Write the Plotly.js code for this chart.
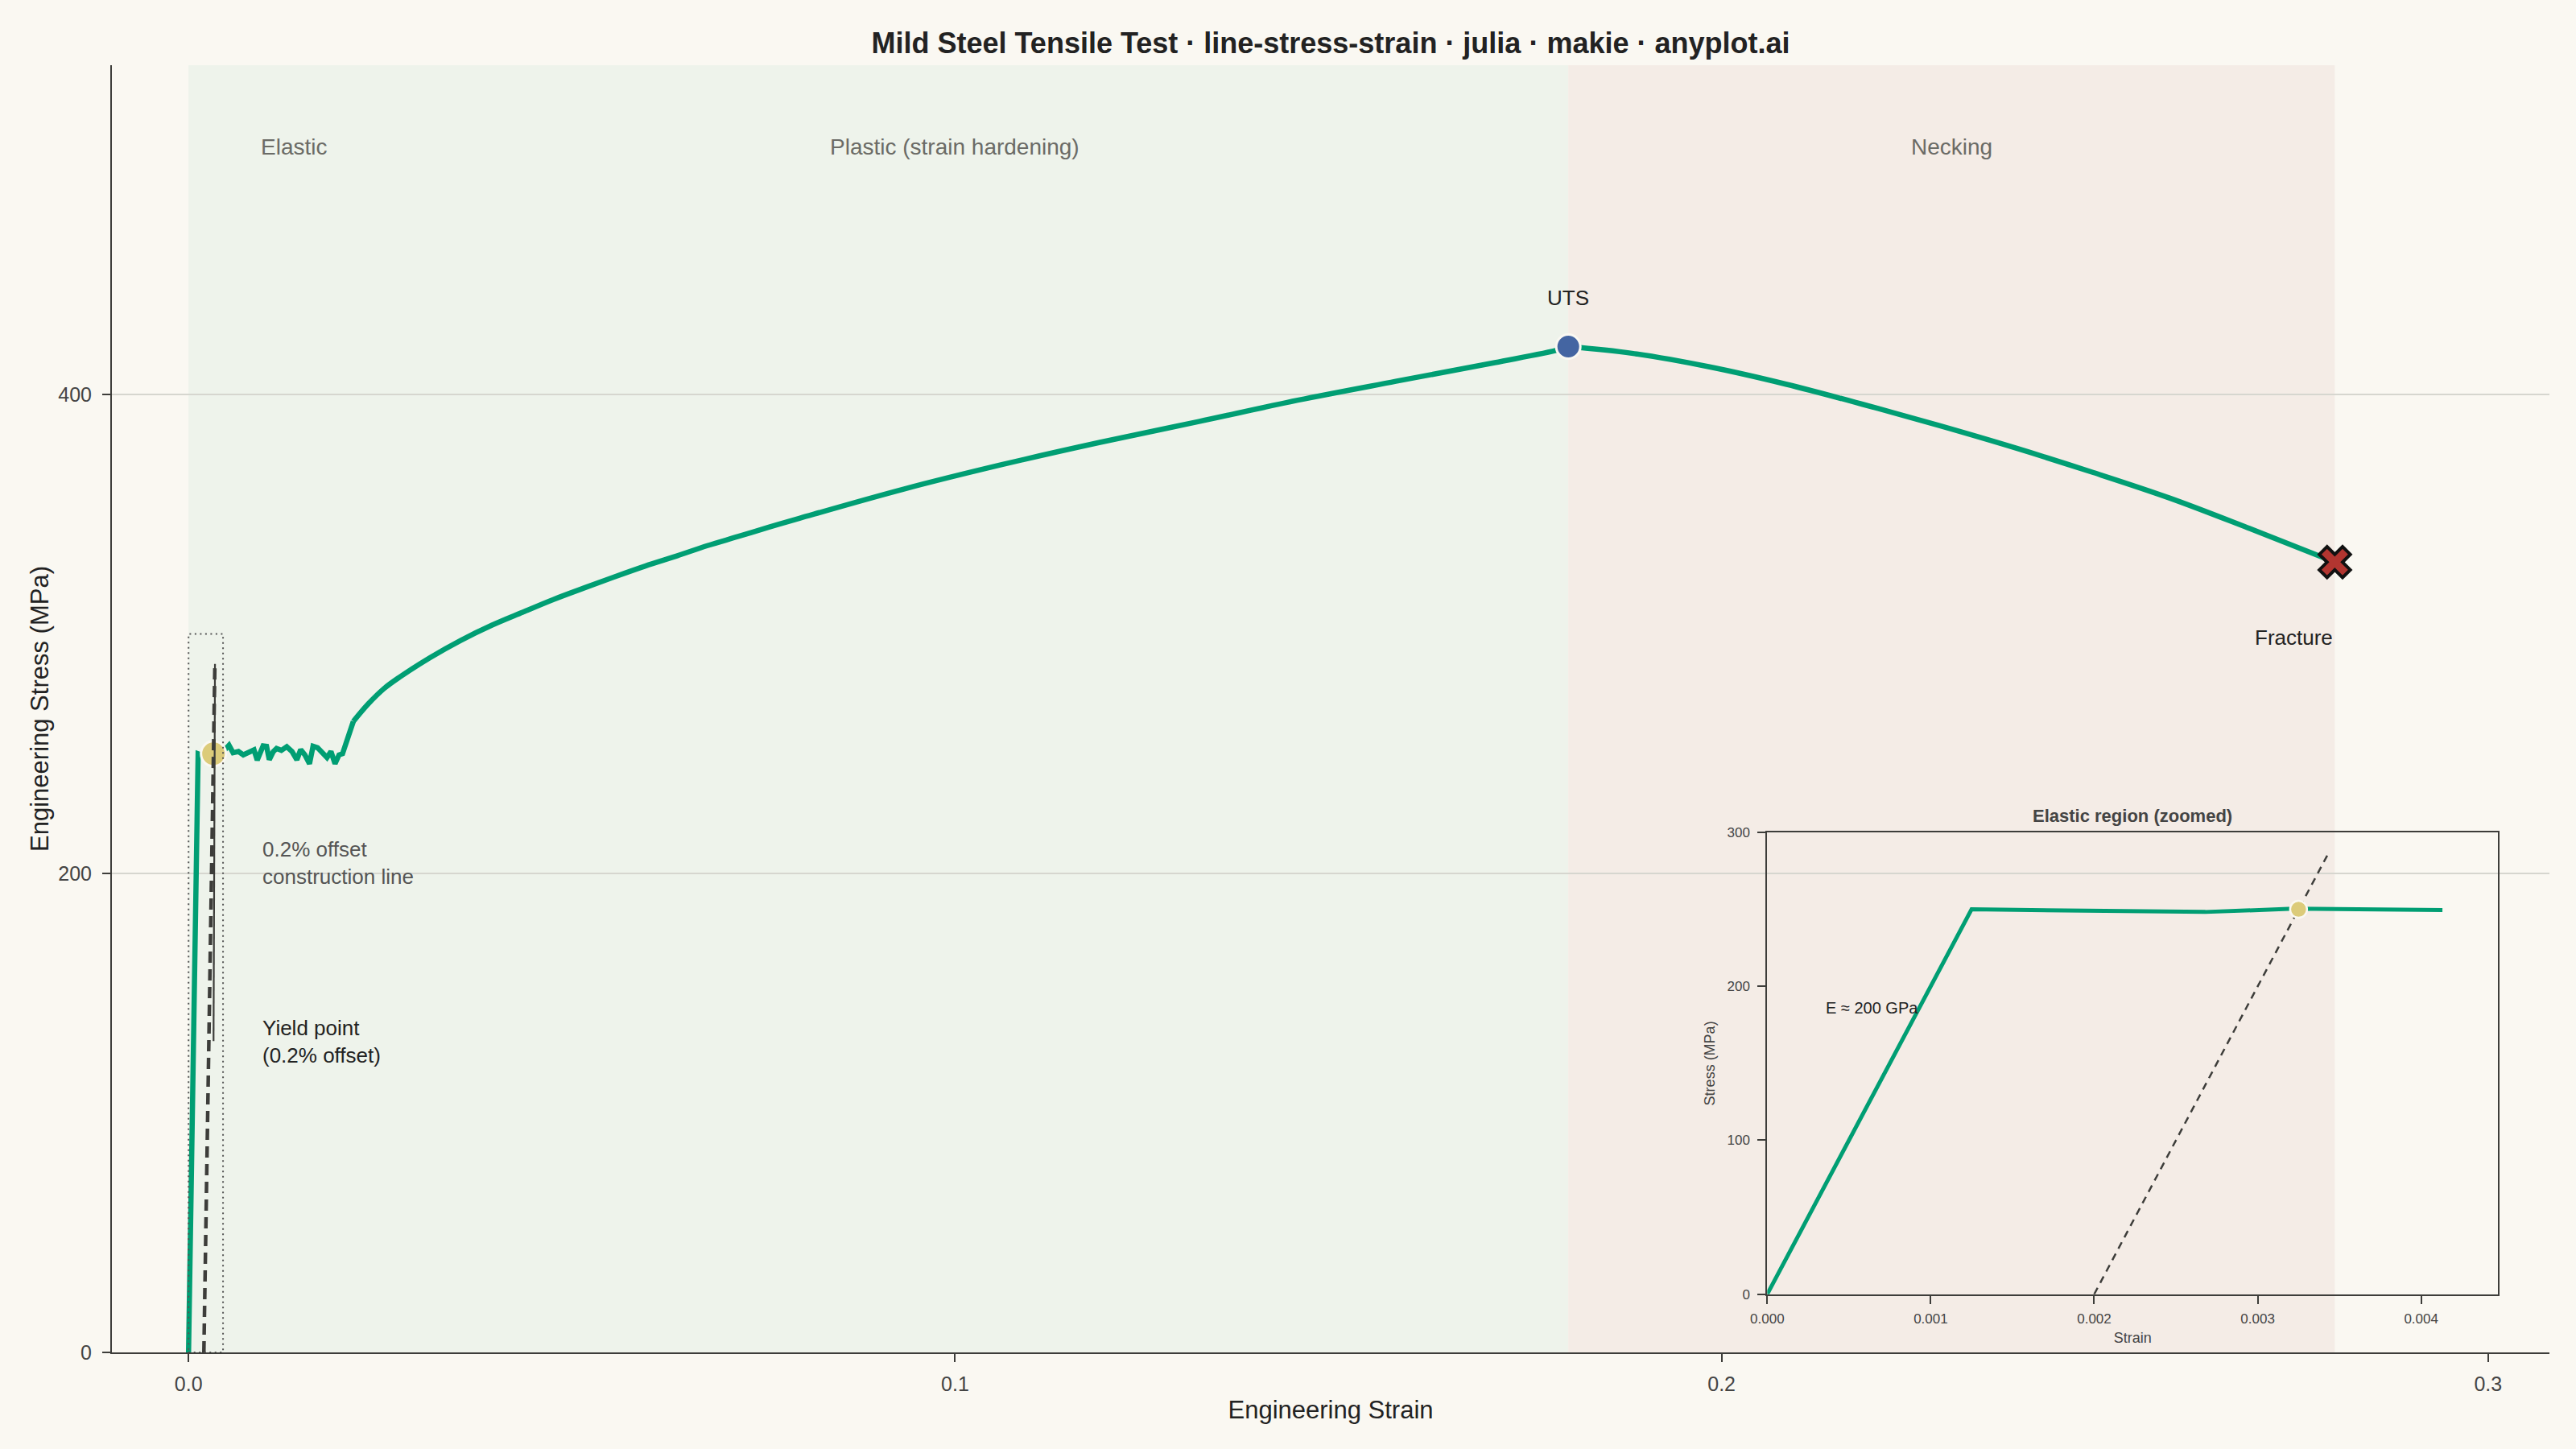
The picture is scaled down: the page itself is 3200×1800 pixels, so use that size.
<!DOCTYPE html>
<html>
<head>
<meta charset="utf-8">
<script src="https://cdn.plot.ly/plotly-3.0.1.min.js"></script>
<style>
  html, body { margin: 0; padding: 0; background: #FAF8F2; }
  #chart { width: 3200px; height: 1800px; }
</style>
</head>
<body>
<div id="chart"></div>
<script>
// ---------------- data ----------------
const curveStrain = [
  0, 0.00125, 0.00268, 0.00322, 0.00413,
  0.00528, 0.00581, 0.00651, 0.00714, 0.00798, 0.00854, 0.00896, 0.00973, 0.01018, 0.01053,
  0.01106, 0.01148, 0.01211, 0.01281, 0.0135, 0.01413, 0.01463, 0.01518, 0.01578, 0.01624,
  0.01683, 0.01753, 0.01806, 0.01858, 0.01911, 0.01963, 0.02009,
  0.0215, 0.0235, 0.0255, 0.0275, 0.0315, 0.0355, 0.0396, 0.0436, 0.0476, 0.0516, 0.0556,
  0.0596, 0.0637, 0.0677, 0.0717, 0.0757, 0.0797, 0.0932, 0.1061, 0.1189, 0.1318, 0.1447,
  0.1575, 0.1704, 0.1787, 0.18,
  0.1883, 0.1983, 0.2084, 0.2184, 0.2284, 0.2385, 0.2485, 0.2585, 0.2686, 0.28
];
const curveStress = [
  0, 250.0, 248.3, 250.4, 249.5,
  253.5, 250.4, 250.9, 249.5, 250.6, 251.6, 247.3, 253.3, 253.1, 247.5,
  250.9, 252.2, 251.4, 252.9, 250.9, 247.5, 251.7, 249.5, 245.8, 253.1,
  252.5, 250.3, 248.4, 250.9, 245.8, 249.5, 250.0,
  263.5, 271.0, 277.2, 281.9, 290.1, 297.3, 303.7, 309.1, 314.4, 319.2, 323.9,
  328.4, 332.6, 336.9, 340.7, 344.6, 348.3, 360.4, 370.7, 380.0, 388.7, 397.6,
  405.5, 413.3, 418.6, 420.0,
  417.2, 411.6, 404.3, 395.9, 387.0, 377.5, 367.4, 356.7, 344.4, 330.0
];
const hardeningStartStrain = 0.0215;

const offsetLineStrain = [0.002, 0.003438];
const offsetLineStress = [0, 287.5];
const connectorStrain = [0.00326, 0.00345];
const connectorStress = [130, 287.5];

const yieldStrain = [0.00325];
const yieldStress = [250];
const utsStrain = [0.18];
const utsStress = [420];
const fractureStrain = [0.28];
const fractureStress = [330];

const regionNames = ['Elastic', 'Plastic (strain hardening)', 'Necking'];
const regionLabelStrain = [0.0137, 0.1, 0.23];
const regionLabelStress = 503.5;
const hardeningRegion = [0, 0.18];
const neckingRegion = [0.18, 0.28];

const zoomBoxStrain = [0, 0.0045];
const zoomBoxStress = [0, 300];

const mainXTicks = [0, 0.1, 0.2, 0.3];
const mainXTickText = ['0.0', '0.1', '0.2', '0.3'];
const mainYTicks = [0, 200, 400];
const insetXTicks = [0, 0.001, 0.002, 0.003, 0.004];
const insetXTickText = ['0.000', '0.001', '0.002', '0.003', '0.004'];
const insetYTicks = [0, 100, 200, 300];
const insetStrainMax = 0.00447;
const insetStressMax = 300;

// ---------------- styling ----------------
const FONT = 'Liberation Sans, Arial, Helvetica, sans-serif';
const BG = '#FAF8F2';
const GREEN = '#009E73';
const AXIS = '#3d3d3a';
const INK = '#222222';

const splitIdx = curveStrain.indexOf(hardeningStartStrain);
const utsIdx = curveStrain.indexOf(utsStrain[0]);
const yieldPartStrain = curveStrain.slice(0, splitIdx + 1);
const yieldPartStress = curveStress.slice(0, splitIdx + 1);
const hardPartStrain = curveStrain.slice(splitIdx, utsIdx + 1);
const hardPartStress = curveStress.slice(splitIdx, utsIdx + 1);
const neckPartStrain = curveStrain.slice(utsIdx);
const neckPartStress = curveStress.slice(utsIdx);

const insetIdx = curveStrain.map((s, i) => i).filter(i => curveStrain[i] <= insetStrainMax);
const insetStrain = insetIdx.map(i => curveStrain[i]);
const insetStress = insetIdx.map(i => curveStress[i]);

const traces = [
  { x: yieldPartStrain, y: yieldPartStress, xaxis: 'x', yaxis: 'y', mode: 'lines', type: 'scatter',
    line: { color: GREEN, width: 6.5 } },
  { x: hardPartStrain, y: hardPartStress, xaxis: 'x', yaxis: 'y', mode: 'lines', type: 'scatter',
    line: { color: GREEN, width: 6.5, shape: 'spline', smoothing: 1 } },
  { x: neckPartStrain, y: neckPartStress, xaxis: 'x', yaxis: 'y', mode: 'lines', type: 'scatter',
    line: { color: GREEN, width: 6.5, shape: 'spline', smoothing: 1 } },
  { x: yieldStrain, y: yieldStress, xaxis: 'x', yaxis: 'y', mode: 'markers', type: 'scatter',
    marker: { color: '#DCCB7A', size: 31, line: { color: BG, width: 3 } } },
  { x: offsetLineStrain, y: offsetLineStress, xaxis: 'x', yaxis: 'y', mode: 'lines', type: 'scatter',
    line: { color: '#3d3d3a', width: 4.5, dash: '14px,8px' } },
  { x: connectorStrain, y: connectorStress, xaxis: 'x', yaxis: 'y', mode: 'lines', type: 'scatter',
    line: { color: '#3d3d3a', width: 2.2 } },
  { x: utsStrain, y: utsStress, xaxis: 'x', yaxis: 'y', mode: 'markers', type: 'scatter',
    marker: { color: '#4465A2', size: 30, line: { color: BG, width: 3 } } },
  { x: fractureStrain, y: fractureStress, xaxis: 'x', yaxis: 'y', mode: 'markers', type: 'scatter',
    marker: { symbol: 'x', color: '#B23530', size: 34, line: { color: '#111111', width: 4 } } },
  // inset
  { x: insetStrain, y: insetStress, xaxis: 'x2', yaxis: 'y2', mode: 'lines', type: 'scatter',
    line: { color: GREEN, width: 5 } },
  { x: offsetLineStrain, y: offsetLineStress, xaxis: 'x2', yaxis: 'y2', mode: 'lines', type: 'scatter',
    line: { color: '#3d3d3a', width: 2.5, dash: '9px,7px' } },
  { x: yieldStrain, y: yieldStress, xaxis: 'x2', yaxis: 'y2', mode: 'markers', type: 'scatter',
    marker: { color: '#DCCB7A', size: 21, line: { color: BG, width: 2.5 } } }
];

const annotations = regionNames.map((name, i) => ({
  xref: 'x', yref: 'y', x: regionLabelStrain[i], y: regionLabelStress, text: name,
  showarrow: false, xanchor: 'center', yanchor: 'middle',
  font: { family: FONT, size: 28, color: '#6b6b66' }
}));
annotations.push(
  { xref: 'x', yref: 'y', x: 0.0094, y: 204.4, text: '0.2% offset<br>construction line',
    showarrow: false, xanchor: 'left', yanchor: 'middle', align: 'left',
    font: { family: FONT, size: 26, color: '#555555' } },
  { xref: 'x', yref: 'y', x: 0.0094, y: 129.6, text: 'Yield point<br>(0.2% offset)',
    showarrow: false, xanchor: 'left', yanchor: 'middle', align: 'left',
    font: { family: FONT, size: 26, color: INK } },
  { xref: 'x', yref: 'y', x: utsStrain[0], y: 440.4, text: 'UTS',
    showarrow: false, xanchor: 'center', yanchor: 'middle',
    font: { family: FONT, size: 26, color: INK } },
  { xref: 'x', yref: 'y', x: fractureStrain[0], y: 298.5, text: 'Fracture',
    showarrow: false, xanchor: 'right', yanchor: 'middle',
    font: { family: FONT, size: 26, color: INK } },
  { xref: 'x2', yref: 'y2', x: 0.00035, y: 186, text: 'E ≈ 200 GPa',
    showarrow: false, xanchor: 'left', yanchor: 'middle',
    font: { family: FONT, size: 20, color: INK } },
  { xref: 'paper', yref: 'paper', x: 0.829, y: 0.4168, text: '<b>Elastic region (zoomed)</b>',
    showarrow: false, xanchor: 'center', yanchor: 'middle',
    font: { family: FONT, size: 22, color: '#444444' } }
);

const shapes = [
  { type: 'rect', xref: 'x', yref: 'paper', x0: hardeningRegion[0], x1: hardeningRegion[1], y0: 0, y1: 1,
    fillcolor: '#EEF3EB', line: { width: 0 }, layer: 'below' },
  { type: 'rect', xref: 'x', yref: 'paper', x0: neckingRegion[0], x1: neckingRegion[1], y0: 0, y1: 1,
    fillcolor: '#F4ECE6', line: { width: 0 }, layer: 'below' },
  { type: 'rect', xref: 'x', yref: 'y', x0: zoomBoxStrain[0], x1: zoomBoxStrain[1],
    y0: zoomBoxStress[0], y1: zoomBoxStress[1],
    line: { color: '#555555', width: 2, dash: '2px,4.5px' }, fillcolor: 'rgba(0,0,0,0)' }
];

const axisCommon = {
  showline: true, linecolor: AXIS, linewidth: 2, ticks: 'outside', tickcolor: AXIS,
  tickwidth: 2, zeroline: false, automargin: false
};

const layout = {
  width: 3200, height: 1800,
  paper_bgcolor: BG, plot_bgcolor: 'rgba(0,0,0,0)',
  margin: { l: 139, r: 33, t: 81, b: 120 },
  showlegend: false,
  font: { family: FONT, color: INK },
  title: {
    text: '<b>Mild Steel Tensile Test · line-stress-strain · julia · makie · anyplot.ai</b>',
    xref: 'paper', x: 0.5, xanchor: 'center', yref: 'container', y: 1 - 53 / 1800, yanchor: 'middle',
    font: { family: FONT, size: 36, color: INK }
  },
  xaxis: Object.assign({}, axisCommon, {
    domain: [0, 1], anchor: 'y', range: [-0.01, 0.308],
    tickvals: mainXTicks, ticktext: mainXTickText, ticklen: 10, ticklabelstandoff: 6,
    tickfont: { family: FONT, size: 25, color: '#444444' }, showgrid: false,
    title: { text: 'Engineering Strain', standoff: 8, font: { family: FONT, size: 31, color: INK } }
  }),
  yaxis: Object.assign({}, axisCommon, {
    domain: [0, 1], anchor: 'x', range: [0, 537.5],
    tickvals: mainYTicks, ticklen: 10, ticklabelstandoff: 8,
    tickfont: { family: FONT, size: 25, color: '#444444' },
    showgrid: true, gridcolor: '#D6D6CF', gridwidth: 2,
    title: { text: 'Engineering Stress (MPa)', standoff: 2, font: { family: FONT, size: 31, color: INK } }
  }),
  xaxis2: Object.assign({}, axisCommon, {
    domain: [0.6791, 0.9789], anchor: 'y2', range: [0, insetStrainMax], mirror: true,
    tickvals: insetXTicks, ticktext: insetXTickText, ticklen: 10, ticklabelstandoff: 4,
    tickfont: { family: FONT, size: 17, color: '#444444' }, showgrid: false,
    title: { text: 'Strain', standoff: 8, font: { family: FONT, size: 18, color: '#444444' } }
  }),
  yaxis2: Object.assign({}, axisCommon, {
    domain: [0.0452, 0.404], anchor: 'x2', range: [0, insetStressMax], mirror: true,
    tickvals: insetYTicks, ticklen: 10, ticklabelstandoff: 6,
    tickfont: { family: FONT, size: 17, color: '#444444' }, showgrid: false,
    title: { text: 'Stress (MPa)', standoff: 10, font: { family: FONT, size: 18, color: '#444444' } }
  }),
  shapes: shapes,
  annotations: annotations
};

Plotly.newPlot('chart', traces, layout, { displayModeBar: false, staticPlot: true });
</script>
</body>
</html>
